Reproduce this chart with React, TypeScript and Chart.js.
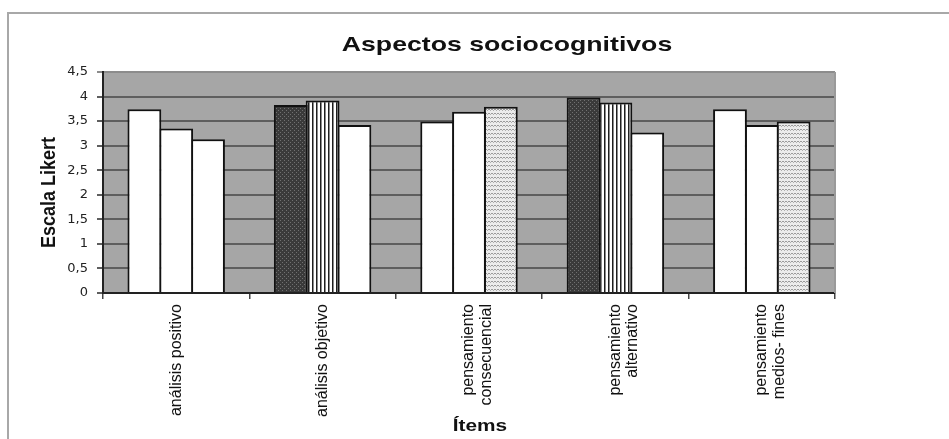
import React, { useEffect, useRef } from 'react';
import { Chart, registerables } from 'chart.js';

Chart.register(...registerables);

const chartTitle = 'Aspectos sociocognitivos';
const yAxisTitle = 'Escala Likert';
const xAxisTitle = 'Ítems';

const categories: (string | string[])[] = [
  'análisis positivo',
  'análisis objetivo',
  ['pensamiento', 'consecuencial'],
  ['pensamiento', 'alternativo'],
  ['pensamiento', 'medios- fines'],
];

const serie1 = [3.74, 3.83, 3.49, 3.98, 3.74];
const serie2 = [3.35, 3.92, 3.69, 3.88, 3.42];
const serie3 = [3.13, 3.42, 3.79, 3.27, 3.49];

const fill1 = ['white', 'dots', 'white', 'dots', 'white'];
const fill2 = ['white', 'stripes', 'white', 'stripes', 'white'];
const fill3 = ['white', 'white', 'waves', 'white', 'waves'];

const yMin = 0;
const yMax = 4.5;
const yStep = 0.5;

function makePattern(kind: string): CanvasPattern | string {
  if (kind === 'white') return '#ffffff';
  const c = document.createElement('canvas');
  const g = c.getContext('2d')!;
  if (kind === 'dots') {
    c.width = 4; c.height = 4;
    g.fillStyle = '#3a3a3a';
    g.fillRect(0, 0, 4, 4);
    g.fillStyle = '#707070';
    g.fillRect(0, 0, 1, 1);
    g.fillRect(2, 2, 1, 1);
  } else if (kind === 'stripes') {
    c.width = 4; c.height = 4;
    g.fillStyle = '#ffffff';
    g.fillRect(0, 0, 4, 4);
    g.fillStyle = '#1e1e1e';
    g.fillRect(0, 0, 1, 4);
    g.fillStyle = '#8a8a8a';
    g.fillRect(1, 0, 1, 4);
  } else {
    c.width = 6; c.height = 4;
    g.fillStyle = '#ececec';
    g.fillRect(0, 0, 6, 4);
    g.strokeStyle = '#9a9a9a';
    g.lineWidth = 1;
    g.beginPath();
    g.moveTo(0, 1);
    g.lineTo(1.5, 2.5);
    g.lineTo(3, 1);
    g.lineTo(4.5, 2.5);
    g.lineTo(6, 1);
    g.stroke();
  }
  return g.createPattern(c, 'repeat')!;
}

const decorPlugin = {
  id: 'decor',
  beforeDraw(chart: any) {
    const { ctx, chartArea: ca } = chart;
    ctx.save();
    ctx.fillStyle = '#a6a6a6';
    ctx.fillRect(ca.left, ca.top, ca.right - ca.left, ca.bottom - ca.top);
    ctx.restore();
  },
  afterDraw(chart: any) {
    const { ctx, chartArea: ca } = chart;
    ctx.save();
    ctx.strokeStyle = '#9a9a9a';
    ctx.lineWidth = 2;
    ctx.beginPath();
    ctx.moveTo(ca.right, ca.top);
    ctx.lineTo(ca.right, ca.bottom);
    ctx.stroke();

    ctx.fillStyle = '#111111';
    ctx.save();
    ctx.translate((ca.left + ca.right) / 2 + 38, 51);
    ctx.scale(1.27, 1);
    ctx.font = 'bold 21px "Liberation Sans", Arial, sans-serif';
    ctx.textAlign = 'center';
    ctx.textBaseline = 'alphabetic';
    ctx.fillText(chartTitle, 0, 0);
    ctx.restore();

    ctx.save();
    ctx.translate((ca.left + ca.right) / 2 + 11, 431);
    ctx.scale(1.3, 1);
    ctx.font = 'bold 16px "Liberation Sans", Arial, sans-serif';
    ctx.textAlign = 'center';
    ctx.textBaseline = 'alphabetic';
    ctx.fillText(xAxisTitle, 0, 0);
    ctx.restore();

    ctx.save();
    ctx.translate(55, (ca.top + ca.bottom) / 2 + 10);
    ctx.rotate(-Math.PI / 2);
    ctx.scale(1, 1.12);
    ctx.font = 'bold 18px "Liberation Sans", Arial, sans-serif';
    ctx.textAlign = 'center';
    ctx.textBaseline = 'alphabetic';
    ctx.fillText(yAxisTitle, 0, 0);
    ctx.restore();

    ctx.restore();
  },
};

export default function App() {
  const ref = useRef<HTMLCanvasElement | null>(null);

  useEffect(() => {
    const canvas = ref.current;
    if (!canvas) return;
    const mk = (arr: string[]) => arr.map((k) => makePattern(k));
    const common = {
      borderColor: '#111111',
      borderWidth: 2,
      borderSkipped: 'bottom' as const,
      barPercentage: 1.063,
      categoryPercentage: 0.652,
    };
    const chart = new Chart(canvas, {
      type: 'bar',
      data: {
        labels: categories,
        datasets: [
          { label: 'Serie 1', data: serie1, backgroundColor: mk(fill1) as any, ...common },
          { label: 'Serie 2', data: serie2, backgroundColor: mk(fill2) as any, ...common },
          { label: 'Serie 3', data: serie3, backgroundColor: mk(fill3) as any, ...common },
        ],
      },
      options: {
        responsive: false,
        animation: false,
        layout: { padding: { top: 72, right: 114, left: 0, bottom: 0 } },
        plugins: {
          legend: { display: false },
          title: { display: false },
          tooltip: { enabled: false },
        },
        scales: {
          x: {
            offset: true,
            grid: {
              display: true,
              offset: true,
              drawOnChartArea: false,
              drawTicks: true,
              tickLength: 6,
              color: '#444444',
              lineWidth: 1.5,
            },
            border: { display: true, color: '#222222', width: 2 },
            ticks: {
              autoSkip: false,
              maxRotation: 90,
              minRotation: 90,
              padding: 5,
              color: '#111111',
              font: { family: '"Liberation Sans", Arial, sans-serif', size: 16, lineHeight: 1.1 },
            },
            afterFit: (s: any) => { s.height = 146; },
          },
          y: {
            min: yMin,
            max: yMax,
            ticks: {
              stepSize: yStep,
              padding: 9,
              color: '#222222',
              font: { family: '"DejaVu Sans", sans-serif', size: 13 },
              callback: (v: any) => String(v).replace('.', ','),
            },
            grid: {
              color: (c: any) => (c.tick && c.tick.value === yMax ? '#8c8c8c' : '#5e5e5e'),
              lineWidth: 2,
              tickLength: 6,
              drawTicks: true,
            },
            border: { display: true, color: '#222222', width: 2 },
            afterFit: (s: any) => { s.width = 103; },
          },
        },
      },
      plugins: [decorPlugin],
    });
    return () => chart.destroy();
  }, []);

  return (
    <div style={{ position: 'fixed', left: 0, top: 0, width: 949, height: 439, overflow: 'hidden', background: '#ffffff' }}>
      <div
        style={{
          position: 'absolute',
          left: 7,
          top: 12,
          width: 2000,
          height: 2000,
          borderTop: '2px solid #a8a8a8',
          borderLeft: '2px solid #a8a8a8',
        }}
      />
      <canvas ref={ref} width={949} height={439} style={{ position: 'absolute', left: 0, top: 0, width: 949, height: 439 }} />
    </div>
  );
}
